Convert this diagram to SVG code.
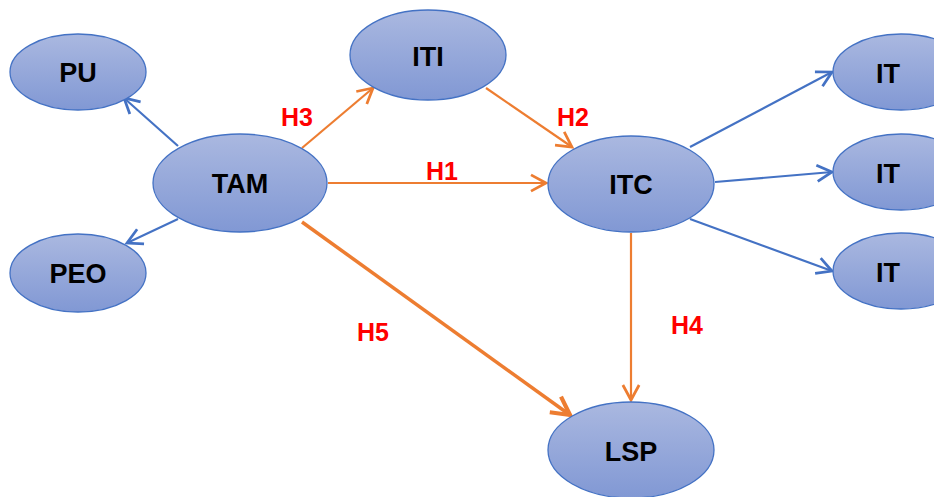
<svg xmlns="http://www.w3.org/2000/svg" width="934" height="497" viewBox="0 0 934 497">
<defs>
<linearGradient id="g" x1="0" y1="0" x2="0" y2="1">
<stop offset="0" stop-color="#AAB8E0"/>
<stop offset="1" stop-color="#8198D4"/>
</linearGradient>
<marker id="ab" markerUnits="userSpaceOnUse" markerWidth="20" markerHeight="20" viewBox="-14 -8 16 16" refX="0" refY="0" orient="auto">
<path d="M-12,-6.5 L0,0 L-12,6.5" fill="none" stroke="#4472C4" stroke-width="2.2"/>
</marker>
<marker id="ao" markerUnits="userSpaceOnUse" markerWidth="20" markerHeight="20" viewBox="-14 -8 16 16" refX="0" refY="0" orient="auto">
<path d="M-12,-6.5 L0,0 L-12,6.5" fill="none" stroke="#ED7D31" stroke-width="2.2"/>
</marker>
<marker id="ao2" markerUnits="userSpaceOnUse" markerWidth="24" markerHeight="24" viewBox="-18 -10 20 20" refX="0" refY="0" orient="auto">
<path d="M-15,-8 L0,0 L-15,8" fill="none" stroke="#ED7D31" stroke-width="3.5"/>
</marker>
</defs>
<style>
ellipse{fill:url(#g);stroke:#4472C4;stroke-width:1.3}
.t{font-family:"Liberation Sans",Arial,sans-serif;font-weight:bold;font-size:27px;fill:#000;text-anchor:middle;dominant-baseline:central}
.h{font-family:"Liberation Sans",Arial,sans-serif;font-weight:bold;font-size:25px;fill:#FF0000;text-anchor:middle;dominant-baseline:central}
.b{stroke:#4472C4;stroke-width:2.2;fill:none;marker-end:url(#ab)}
.o{stroke:#ED7D31;stroke-width:2.2;fill:none;marker-end:url(#ao)}
</style>
<g id="connectors">
<line class="b" x1="178" y1="146" x2="124" y2="98"/>
<line class="b" x1="178" y1="219" x2="127" y2="243"/>
<line class="o" x1="302" y1="148" x2="373" y2="88"/>
<line class="o" x1="486" y1="88" x2="572" y2="147"/>
<line class="o" x1="328" y1="183" x2="546" y2="183"/>
<line x1="302" y1="222" x2="570" y2="415" stroke="#ED7D31" stroke-width="3.5" marker-end="url(#ao2)"/>
<line class="o" x1="631" y1="233" x2="631" y2="400"/>
<line class="b" x1="690" y1="147" x2="832" y2="72"/>
<line class="b" x1="715" y1="182" x2="832" y2="172"/>
<line class="b" x1="690" y1="219" x2="832" y2="271"/>
</g>
<g id="labels">
<text class="h" x="297" y="117">H3</text>
<text class="h" x="573" y="117">H2</text>
<text class="h" x="442" y="171">H1</text>
<text class="h" x="373" y="332">H5</text>
<text class="h" x="687" y="325">H4</text>
</g>
<g id="PU"><ellipse cx="78" cy="72" rx="68" ry="38"/><text class="t" x="78" y="73">PU</text></g>
<g id="PEO"><ellipse cx="78" cy="273" rx="68" ry="39"/><text class="t" x="78" y="274">PEO</text></g>
<g id="TAM"><ellipse cx="240" cy="183" rx="87" ry="49"/><text class="t" x="240" y="184">TAM</text></g>
<g id="ITI"><ellipse cx="428" cy="55" rx="78" ry="45"/><text class="t" x="428" y="57">ITI</text></g>
<g id="ITC"><ellipse cx="631" cy="184" rx="83" ry="48"/><text class="t" x="631" y="185">ITC</text></g>
<g id="LSP"><ellipse cx="631" cy="450" rx="83" ry="48"/><text class="t" x="631" y="452">LSP</text></g>
<g id="IT1"><ellipse cx="901" cy="72" rx="68" ry="38"/><text class="t" x="888" y="74">IT</text></g>
<g id="IT2"><ellipse cx="901" cy="172" rx="68" ry="38"/><text class="t" x="888" y="174">IT</text></g>
<g id="IT3"><ellipse cx="901" cy="271" rx="68" ry="38"/><text class="t" x="888" y="273">IT</text></g>
</svg>
